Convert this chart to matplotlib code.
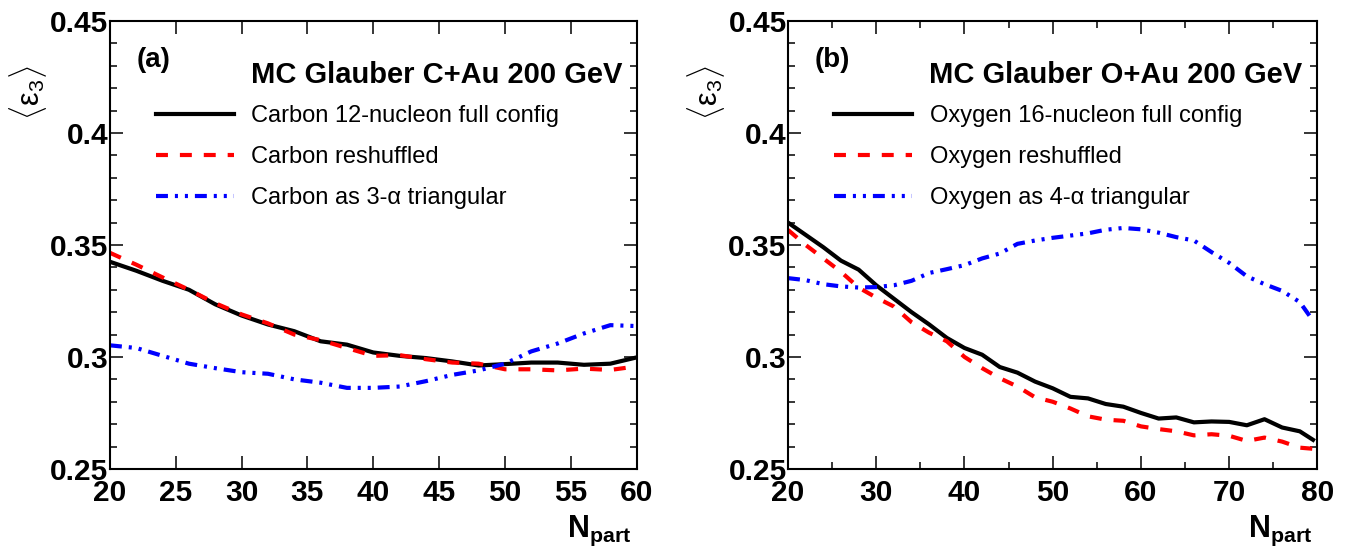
import matplotlib
matplotlib.use("Agg")
import matplotlib.pyplot as plt
from matplotlib.ticker import MultipleLocator, FormatStrFormatter

plt.rcParams["font.family"] = ["Liberation Sans", "DejaVu Sans"]
plt.rcParams["mathtext.fontset"] = "custom"
plt.rcParams["mathtext.rm"] = "Liberation Sans"
plt.rcParams["mathtext.it"] = "Liberation Sans:italic"
plt.rcParams["mathtext.bf"] = "Liberation Sans:bold"
plt.rcParams["lines.scale_dashes"] = False

# panel (a): C+Au
npart_c = [20, 22, 24, 26, 28, 30, 32, 34, 36, 38, 40, 42, 44, 46, 48, 50, 52, 54, 56, 58, 60]
c_full = [0.3425, 0.3385, 0.3340, 0.3300, 0.3235, 0.3185, 0.3145, 0.3115, 0.3070, 0.3055, 0.3020,
          0.3005, 0.2995, 0.2980, 0.2962, 0.2968, 0.2975, 0.2975, 0.2965, 0.2970, 0.2998]
c_resh = [0.3465, 0.3412, 0.3355, 0.3300, 0.3240, 0.3190, 0.3150, 0.3100, 0.3075, 0.3040, 0.3005,
          0.3008, 0.2990, 0.2975, 0.2970, 0.2945, 0.2945, 0.2940, 0.2948, 0.2942, 0.2958]
c_alpha = [0.3052, 0.3040, 0.3005, 0.2970, 0.2950, 0.2932, 0.2925, 0.2900, 0.2885, 0.2862, 0.2862,
           0.2868, 0.2892, 0.2920, 0.2940, 0.2970, 0.3025, 0.3060, 0.3105, 0.3142, 0.3138]

# panel (b): O+Au
npart_o = [20, 22, 24, 26, 28, 30, 32, 34, 36, 38, 40, 42, 44, 46, 48, 50, 52, 54, 56, 58,
           60, 62, 64, 66, 68, 70, 72, 74, 76, 78, 79.5]
o_full = [0.3600, 0.3545, 0.3490, 0.3430, 0.3390, 0.3320, 0.3260, 0.3200, 0.3145, 0.3085,
          0.3040, 0.3010, 0.2955, 0.2930, 0.2890, 0.2860, 0.2822, 0.2815, 0.2790, 0.2778,
          0.2750, 0.2725, 0.2730, 0.2708, 0.2712, 0.2710, 0.2695, 0.2722, 0.2685, 0.2668, 0.2630]
o_resh = [0.3567, 0.3500, 0.3440, 0.3380, 0.3310, 0.3265, 0.3225, 0.3155, 0.3108, 0.3070,
          0.3000, 0.2950, 0.2905, 0.2868, 0.2820, 0.2800, 0.2770, 0.2735, 0.2720, 0.2715,
          0.2690, 0.2678, 0.2668, 0.2650, 0.2655, 0.2648, 0.2625, 0.2640, 0.2622, 0.2595, 0.2590]
o_alpha = [0.3352, 0.3343, 0.3325, 0.3315, 0.3310, 0.3312, 0.3320, 0.3340, 0.3375, 0.3392,
           0.3410, 0.3440, 0.3462, 0.3505, 0.3520, 0.3532, 0.3542, 0.3552, 0.3568, 0.3576,
           0.3570, 0.3555, 0.3535, 0.3520, 0.3468, 0.3420, 0.3360, 0.3325, 0.3295, 0.3245, 0.3162]

panels = [
    dict(x=npart_c, full=c_full, resh=c_resh, alpha=c_alpha, tag="(a)",
         title="MC Glauber C+Au 200 GeV",
         labels=["Carbon 12-nucleon full config", "Carbon reshuffled",
                 "Carbon as 3-\u03b1 triangular"],
         xlim=(20, 60), major=5, minor=None),
    dict(x=npart_o, full=o_full, resh=o_resh, alpha=o_alpha, tag="(b)",
         title="MC Glauber O+Au 200 GeV",
         labels=["Oxygen 16-nucleon full config", "Oxygen reshuffled",
                 "Oxygen as 4-\u03b1 triangular"],
         xlim=(20, 80), major=10, minor=5),
]

fig = plt.figure(figsize=(13.54, 5.53), dpi=100)
rects = [[0.0812, 0.152, 0.389, 0.810], [0.582, 0.152, 0.391, 0.810]]

lw = 3.0
red_dash = (0, (8.6, 8.6))
blue_dash = (0, (8.6, 5.0, 2.2, 5.0, 2.2, 5.0))

for rect, p in zip(rects, panels):
    ax = fig.add_axes(rect)
    l1, = ax.plot(p["x"], p["full"], color="black", lw=lw, solid_joinstyle="round")
    l2, = ax.plot(p["x"], p["resh"], color="#ff0000", lw=lw, linestyle=red_dash)
    l3, = ax.plot(p["x"], p["alpha"], color="#0000ff", lw=lw, linestyle=blue_dash)

    ax.set_xlim(*p["xlim"])
    ax.set_ylim(0.25, 0.45)
    ax.xaxis.set_major_locator(MultipleLocator(p["major"]))
    if p["minor"]:
        ax.xaxis.set_minor_locator(MultipleLocator(p["minor"]))
    ax.yaxis.set_major_locator(MultipleLocator(0.05))
    ax.yaxis.set_minor_locator(MultipleLocator(0.01))
    ax.yaxis.set_major_formatter(FormatStrFormatter("%g"))
    ax.xaxis.set_major_formatter(FormatStrFormatter("%g"))

    for s in ax.spines.values():
        s.set_linewidth(1.5)
    ax.tick_params(which="both", direction="in", top=True, right=True, width=1.1)
    ax.tick_params(which="major", length=9.4)
    ax.tick_params(which="minor", length=4.7)
    ax.tick_params(axis="x", which="both", pad=7)
    ax.tick_params(axis="y", which="both", pad=1)
    for lab in ax.get_xticklabels() + ax.get_yticklabels():
        lab.set_fontsize(21.5)
        lab.set_fontweight("bold")

    ax.text(0.051, 0.913, p["tag"], transform=ax.transAxes, fontsize=20,
            fontweight="bold", ha="left", va="center")
    ax.text(0.972, 0.879, p["title"], transform=ax.transAxes, fontsize=21,
            fontweight="bold", ha="right", va="center")
    ax.legend([l1, l2, l3], p["labels"], loc="upper left", bbox_to_anchor=(0.087, 0.812),
              frameon=False, fontsize=17, handlelength=3.3, handletextpad=0.75,
              labelspacing=0.8, borderpad=0, borderaxespad=0)

    ax.text(-0.155, 0.84, r"$\langle\mathrm{\varepsilon}_{3}\rangle$", transform=ax.transAxes,
            rotation=90, fontsize=22, ha="center", va="center")
    ax.text(0.99, -0.152, r"$\mathbf{N}_{\mathbf{part}}$", transform=ax.transAxes,
            fontsize=22, ha="right", va="baseline")

fig.savefig("out.png", dpi=100)
